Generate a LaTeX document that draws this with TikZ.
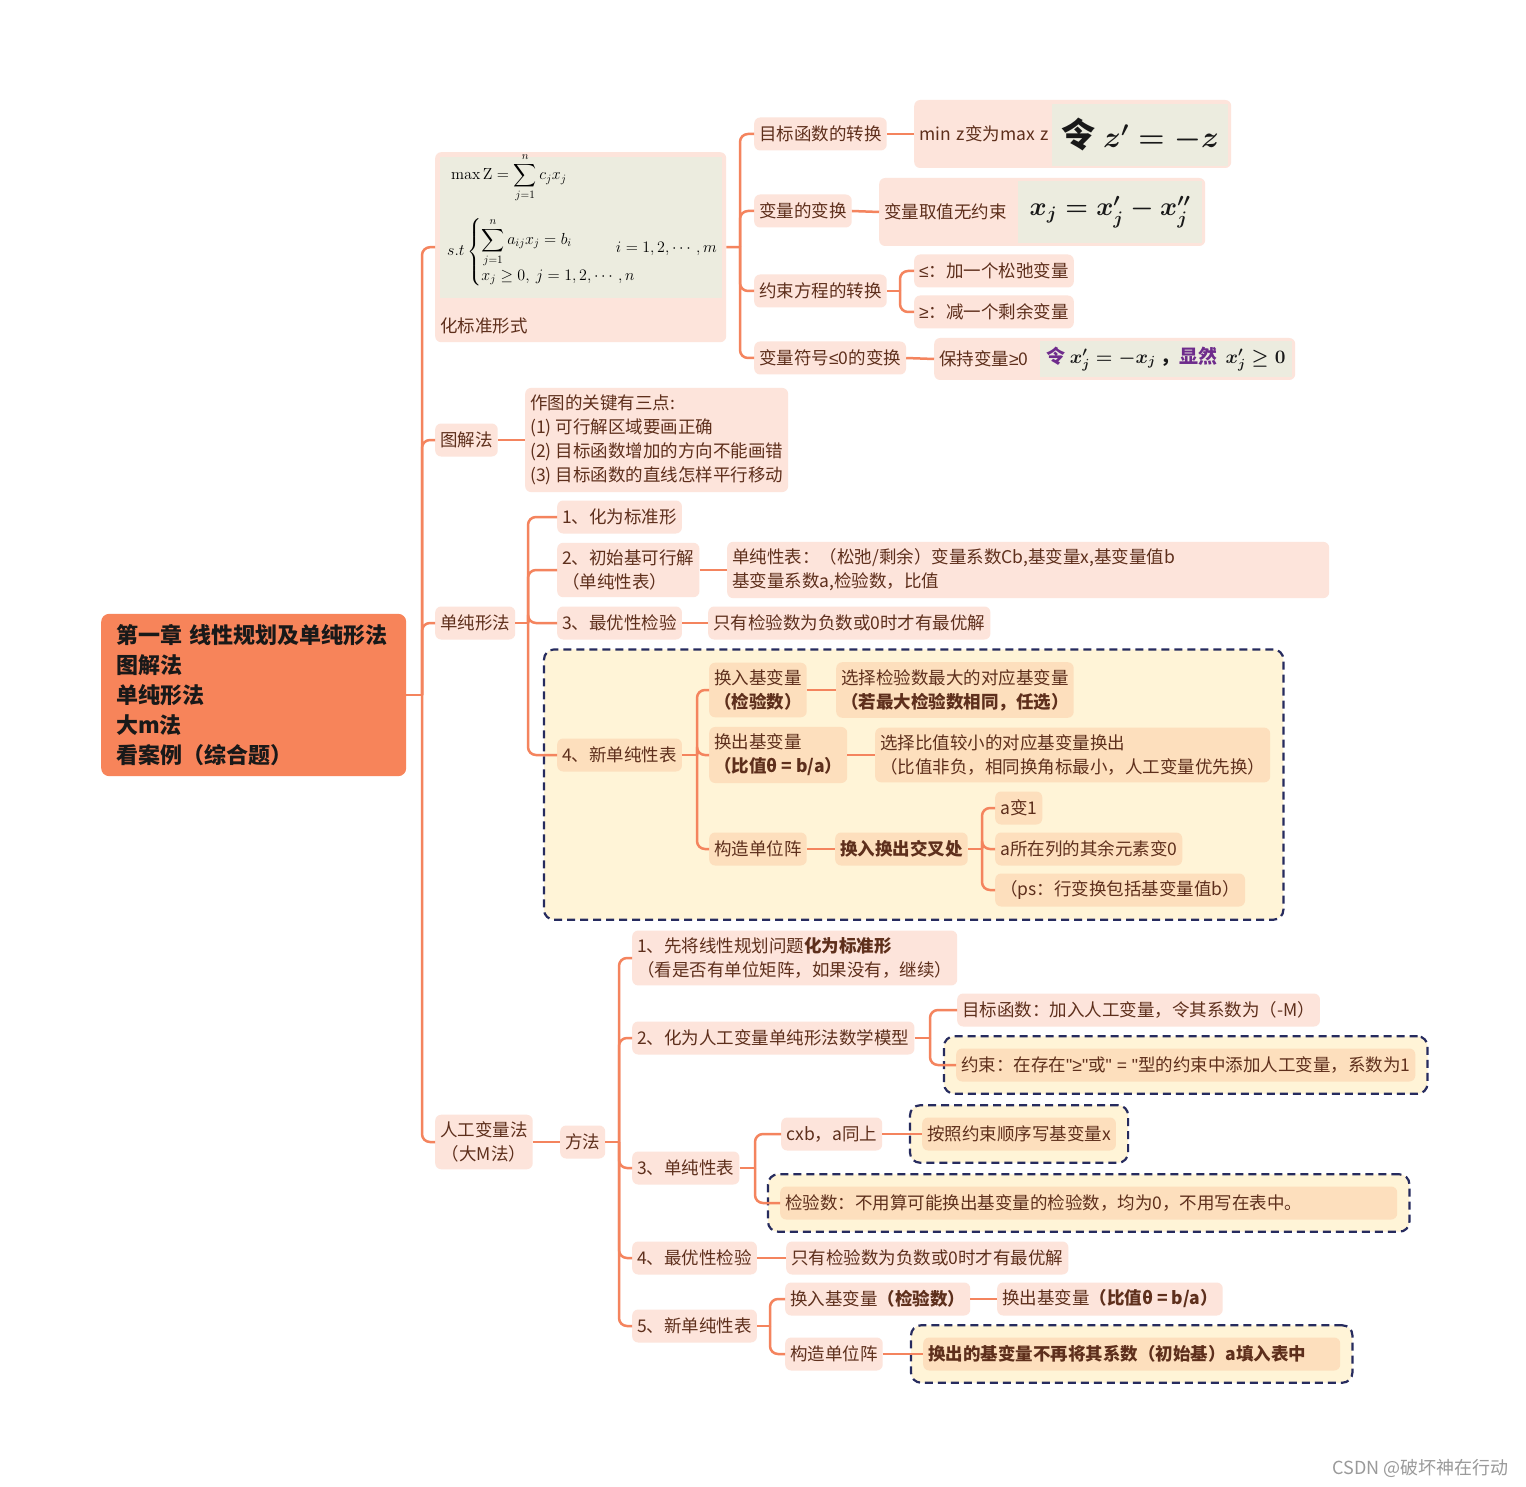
\RequirePackage{fix-cm}
\documentclass[tikz,border=0pt]{standalone}
\usepackage{amsmath,amssymb}
\usepackage[no-math]{fontspec}
\setmainfont{Noto Sans CJK SC}
\newfontfamily\symf{Liberation Sans}
\usepackage{tikz}
\usetikzlibrary{positioning,fit,backgrounds}

\definecolor{rootF}{HTML}{F7845A}
\definecolor{lineC}{HTML}{F4845E}
\definecolor{topicF}{HTML}{FDE4DB}
\definecolor{topicT}{HTML}{5E2F1C}
\definecolor{hotF}{HTML}{FDDFBD}
\definecolor{frameF}{HTML}{FFF4D7}
\definecolor{frameD}{HTML}{262B5E}
\definecolor{imgF}{HTML}{ECECDF}
\definecolor{mathP}{HTML}{6E2B8C}
\definecolor{wmC}{HTML}{9A9A9A}

\begin{document}
\begin{tikzpicture}[x=1pt,y=-1pt,
	topic/.style={fill=topicF,text=topicT,rounded corners=6pt,
		font=\fontsize{17.5}{24}\selectfont,inner xsep=5pt,inner ysep=7pt,
		minimum height=33pt,align=left,anchor=west},
	hot/.style={topic,fill=hotF},
	rootbox/.style={fill=rootF,text=black!90,rounded corners=8pt,
		font=\fontsize{22}{30}\selectfont\bfseries,inner xsep=15pt,inner ysep=10.5pt,
		text width=275pt,align=left,anchor=west},
	panel/.style={fill=imgF,inner sep=0pt,text=black!90},
	link/.style={draw=lineC,line width=2.5pt},
	branch/.style={link,rounded corners=8pt},
	frame/.style={draw=frameD,line width=2.2pt,dash pattern=on 8pt off 5pt,
		fill=frameF,rounded corners=10pt,inner sep=12pt}]

	\path[use as bounding box] (0,0) rectangle (1526,1487);

	% 中心主题
	\node[rootbox] (root) at (101,695)
		{第一章 线性规划及单纯形法\\图解法\\单纯形法\\大m法\\看案例（综合题）};

	% 化标准形式
	\node[topic,anchor=north west,minimum width=291pt,minimum height=190pt] (std)
		at (435,152) {};
	\node[panel,anchor=north west,minimum width=282pt,minimum height=141pt] (stdimg)
		at (440,157) {};
	\node[anchor=west,inner sep=0pt] (maxz)
		at (451,178) {\fontsize{16}{19}\selectfont$\displaystyle\max\mathrm{Z}=\sum_{j=1}^{n}c_jx_j$};
	\node[anchor=west,inner sep=0pt] (stc)
		at (447,252) {\fontsize{16}{19}\selectfont$s.t\left\{\begin{array}{@{}l@{}}\displaystyle\sum_{j=1}^{n}a_{ij}x_j=b_i\\[3pt]
			x_j\ge 0,\ j=1,2,\cdots,n\end{array}\right.$};
	\node[anchor=east,inner sep=0pt] (irange)
		at (717,249) {\fontsize{16}{19}\selectfont$i=1,2,\cdots,m$};
	\node[anchor=west,inner sep=0pt,text=topicT,font=\fontsize{17.5}{24}\selectfont] (stdlbl)
		at (440,326) {化标准形式};

	\node[topic] (mb) at (754,134) {目标函数的转换};
	\node[topic,minimum height=68pt,text width=307pt] (mbz) at (914,134) {min z变为max z};
	\node[panel,minimum width=176pt,minimum height=62pt] (mbzf) at (1140,135)
		{{\fontsize{34}{34}\selectfont\bfseries 令}\hspace{8pt}{\fontsize{30}{30}\selectfont$\boldsymbol{z'=-z}$}};

	\node[topic] (bl) at (754,211) {变量的变换};
	\node[topic,minimum height=68pt,text width=316pt] (blz) at (879,212) {变量取值无约束};
	\node[panel,minimum width=184pt,minimum height=62pt] (blzf) at (1110,212)
		{\fontsize{26}{26}\selectfont$\boldsymbol{x_j=x'_j-x''_j}$};

	\node[topic] (ys) at (754,291) {约束方程的转换};
	\node[topic] (ys1) at (914,271) {{\symf≤}：加一个松弛变量};
	\node[topic] (ys2) at (914,312) {{\symf≥}：减一个剩余变量};

	\node[topic] (fh) at (754,358) {变量符号{\symf≤}0的变换};
	\node[topic,minimum height=42pt,text width=351pt] (fhz) at (934,359) {保持变量{\symf≥}0};
	\node[panel,minimum width=252pt,minimum height=36pt] (fhzf) at (1166,359)
		{\fontsize{19}{19}\selectfont{\color{mathP}\bfseries 令}\ $\boldsymbol{x'_j=-x_j}$\ {\bfseries ，}{\color{mathP}\bfseries 显然}\ \ $\boldsymbol{x'_j\ge 0}$};

	% 图解法
	\node[topic] (tj) at (435,440) {图解法};
	\node[topic] (tjz) at (525,440)
		{作图的关键有三点:\\(1) 可行解区域要画正确\\(2) 目标函数增加的方向不能画错\\(3) 目标函数的直线怎样平行移动};

	% 单纯形法
	\node[topic] (dc) at (435,623) {单纯形法};
	\node[topic] (d1) at (557,517) {1、化为标准形};
	\node[topic] (d2) at (557,570) {2、初始基可行解\\（单纯性表）};
	\node[topic,text width=592pt] (d2z) at (727,570)
		{单纯性表：（松弛/剩余）变量系数Cb,基变量x,基变量值b\\基变量系数a,检验数，比值};
	\node[topic] (d3) at (557,623) {3、最优性检验};
	\node[topic] (d3z) at (708,623) {只有检验数为负数或0时才有最优解};
	\node[hot] (d4) at (557,755) {4、新单纯性表};
	\node[hot] (d4a) at (709,690) {换入基变量\\\textbf{（检验数）}};
	\node[hot] (d4az) at (836,690) {选择检验数最大的对应基变量\\\textbf{（若最大检验数相同，任选）}};
	\node[hot] (d4b) at (709,755) {换出基变量\\\textbf{（比值θ = b/a）}};
	\node[hot] (d4bz) at (875,755) {选择比值较小的对应基变量换出\\（比值非负，相同换角标最小，人工变量优先换）};
	\node[hot] (d4c) at (709,849) {构造单位阵};
	\node[hot] (d4cz) at (835,849) {\textbf{换入换出交叉处}};
	\node[hot] (d4c1) at (995,808) {a变1};
	\node[hot] (d4c2) at (995,849) {a所在列的其余元素变0};
	\node[hot] (d4c3) at (995,890) {（ps：行变换包括基变量值b）};

	% 人工变量法
	\node[topic,align=center] (rg) at (435,1142) {人工变量法\\（大M法）};
	\node[topic] (ff) at (560,1142) {方法};
	\node[topic] (r1) at (632,958) {1、先将线性规划问题\textbf{化为标准形}\\（看是否有单位矩阵，如果没有，继续）};
	\node[topic] (r2) at (632,1038) {2、化为人工变量单纯形法数学模型};
	\node[topic] (r2a) at (957,1010) {目标函数：加入人工变量，令其系数为（-M）};
	\node[hot] (r2b) at (956,1065) {约束：在存在{\symf"≥"}或{\symf" = "}型的约束中添加人工变量，系数为1};
	\node[topic] (r3) at (632,1168) {3、单纯性表};
	\node[topic] (r3a) at (781,1134) {cxb，a同上};
	\node[hot] (r3az) at (922,1134) {按照约束顺序写基变量x};
	\node[hot,text width=607pt] (r3b) at (780,1203) {检验数：不用算可能换出基变量的检验数，均为0，不用写在表中。};
	\node[topic] (r4) at (632,1258) {4、最优性检验};
	\node[topic] (r4z) at (786,1258) {只有检验数为负数或0时才有最优解};
	\node[topic] (r5) at (632,1326) {5、新单纯性表};
	\node[topic] (r5a) at (785,1299) {换入基变量\textbf{（检验数）}};
	\node[topic] (r5az) at (997,1299) {换出基变量\textbf{（比值θ = b/a）}};
	\node[topic] (r5b) at (785,1354) {构造单位阵};
	\node[hot,text width=407pt] (r5bz) at (923,1354) {\textbf{换出的基变量不再将其系数（初始基）a填入表中}};

	\node[anchor=east,text=wmC,font=\fontsize{18}{20}\selectfont] (wm) at (1512,1468) {CSDN @破坏神在行动};

	% 连线
	\coordinate (jRoot) at (422,695);
	\draw[link] (root.east) -- (jRoot);
	\foreach \kid in {std,tj,dc,rg}
		\draw[branch] (jRoot) |- (\kid.west);

	\coordinate (jStd) at (740,247);
	\draw[link] (std.east) -- (jStd);
	\foreach \kid in {mb,bl,ys,fh}
		\draw[branch] (jStd) |- (\kid.west);

	\coordinate (jYs) at (900,291);
	\draw[link] (ys.east) -- (jYs);
	\foreach \kid in {ys1,ys2}
		\draw[branch] (jYs) |- (\kid.west);

	\coordinate (jDc) at (528,623);
	\draw[link] (dc.east) -- (jDc);
	\foreach \kid in {d1,d2,d3,d4}
		\draw[branch] (jDc) |- (\kid.west);

	\coordinate (jD4) at (697,755);
	\draw[link] (d4.east) -- (jD4);
	\foreach \kid in {d4a,d4b,d4c}
		\draw[branch] (jD4) |- (\kid.west);

	\coordinate (jD4c) at (982,849);
	\draw[link] (d4cz.east) -- (jD4c);
	\foreach \kid in {d4c1,d4c2,d4c3}
		\draw[branch] (jD4c) |- (\kid.west);

	\coordinate (jFf) at (619,1142);
	\draw[link] (ff.east) -- (jFf);
	\foreach \kid in {r1,r2,r3,r4,r5}
		\draw[branch] (jFf) |- (\kid.west);

	\coordinate (jR2) at (930,1038);
	\draw[link] (r2.east) -- (jR2);
	\foreach \kid in {r2a,r2b}
		\draw[branch] (jR2) |- (\kid.west);

	\coordinate (jR3) at (755,1168);
	\draw[link] (r3.east) -- (jR3);
	\foreach \kid in {r3a,r3b}
		\draw[branch] (jR3) |- (\kid.west);

	\coordinate (jR5) at (770,1326);
	\draw[link] (r5.east) -- (jR5);
	\foreach \kid in {r5a,r5b}
		\draw[branch] (jR5) |- (\kid.west);

	\foreach \p/\q in {mb/mbz,bl/blz,fh/fhz,tj/tjz,d2/d2z,d3/d3z,d4a/d4az,d4b/d4bz,
		d4c/d4cz,rg/ff,r3a/r3az,r4/r4z,r5a/r5az,r5b/r5bz}
		\draw[link] (\p.east) -- (\q.west);

	% 虚线框
	\begin{scope}[on background layer]
		\fill[white] (0,0) rectangle (1526,1487);
		\node[frame,inner sep=13pt,fit=(d4)(d4a)(d4bz)(d4c3)] (fr1) {};
		\node[frame,fit=(r2b)] (fr2) {};
		\node[frame,fit=(r3az)] (fr3) {};
		\node[frame,fit=(r3b)] (fr4) {};
		\node[frame,fit=(r5bz)] (fr5) {};
	\end{scope}

\end{tikzpicture}
\end{document}
